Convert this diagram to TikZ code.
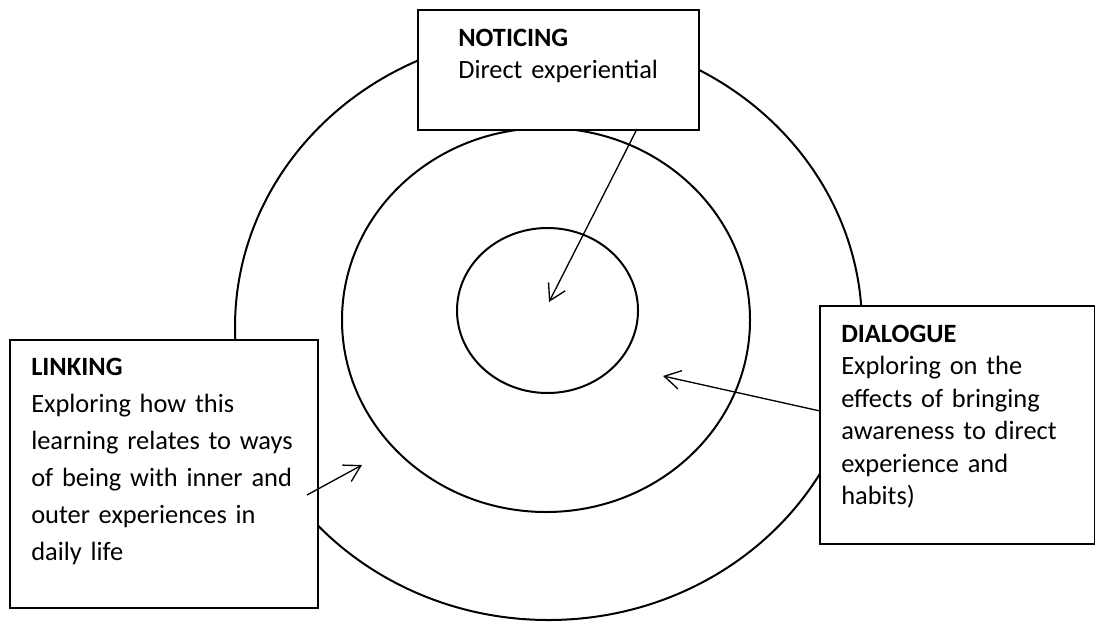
\documentclass[tikz,border=0pt]{standalone}
\usepackage{fontspec}
\setmainfont{Carlito}
\usetikzlibrary{arrows.meta,shapes.geometric}
\begin{document}
\begin{tikzpicture}[x=0.75pt,y=-0.75pt,
  ring/.style={draw, ellipse, line width=1.5pt, inner sep=0pt},
  panel/.style={draw, fill=white, line width=1.5pt, inner sep=0pt, anchor=north west},
  caption/.style={anchor=base west, inner sep=0pt, align=left,
    font=\fontsize{19.8}{24.4}\selectfont},
  loosecaption/.style={caption, font=\fontsize{19.8}{27.75}\selectfont},
  pointer/.style={line width=1pt, -{Straight Barb[length=12pt,width=14pt]}}
]
\useasboundingbox (0,0) rectangle (1095,622);

% three nested rings
\node[ring, minimum width=470.25pt, minimum height=439.5pt] (outer) at (548.5,327) {};
\node[ring, minimum width=306pt, minimum height=288pt] (middle) at (546,320) {};
\node[ring, minimum width=135.75pt, minimum height=123.75pt] (inner) at (547.5,310.5) {};

% labelled panels
\node[panel, minimum width=210.75pt, minimum height=90pt] (noticebox) at (417,9) {};
\node[caption, text width=180pt] (noticetext) at (458,46)
  {\textbf{NOTICING}\\Direct experiential};

\node[panel, minimum width=231pt, minimum height=201pt] (linkbox) at (9,339) {};
\node[loosecaption, text width=200pt] (linktext) at (31,375)
  {\textbf{LINKING}\\Exploring how this\\learning relates to ways\\of being with inner and\\outer experiences in\\daily life};

\node[panel, minimum width=206.25pt, minimum height=178.5pt] (dialbox) at (819,305) {};
\node[caption, text width=180pt] (dialtext) at (841,342)
  {\textbf{DIALOGUE}\\Exploring on the\\effects of bringing\\awareness to direct\\experience and\\habits)};

% pointers into the rings
\coordinate (nfrom) at (637,129);
\coordinate (nto) at (549,302);
\coordinate (dfrom) at (820,411);
\coordinate (dto) at (663,376);
\coordinate (lfrom) at (307,495);
\coordinate (lto) at (362,465);

\draw[pointer] (nfrom) -- (nto);
\draw[pointer] (dfrom) -- (dto);
\draw[pointer] (lfrom) -- (lto);
\end{tikzpicture}
\end{document}
